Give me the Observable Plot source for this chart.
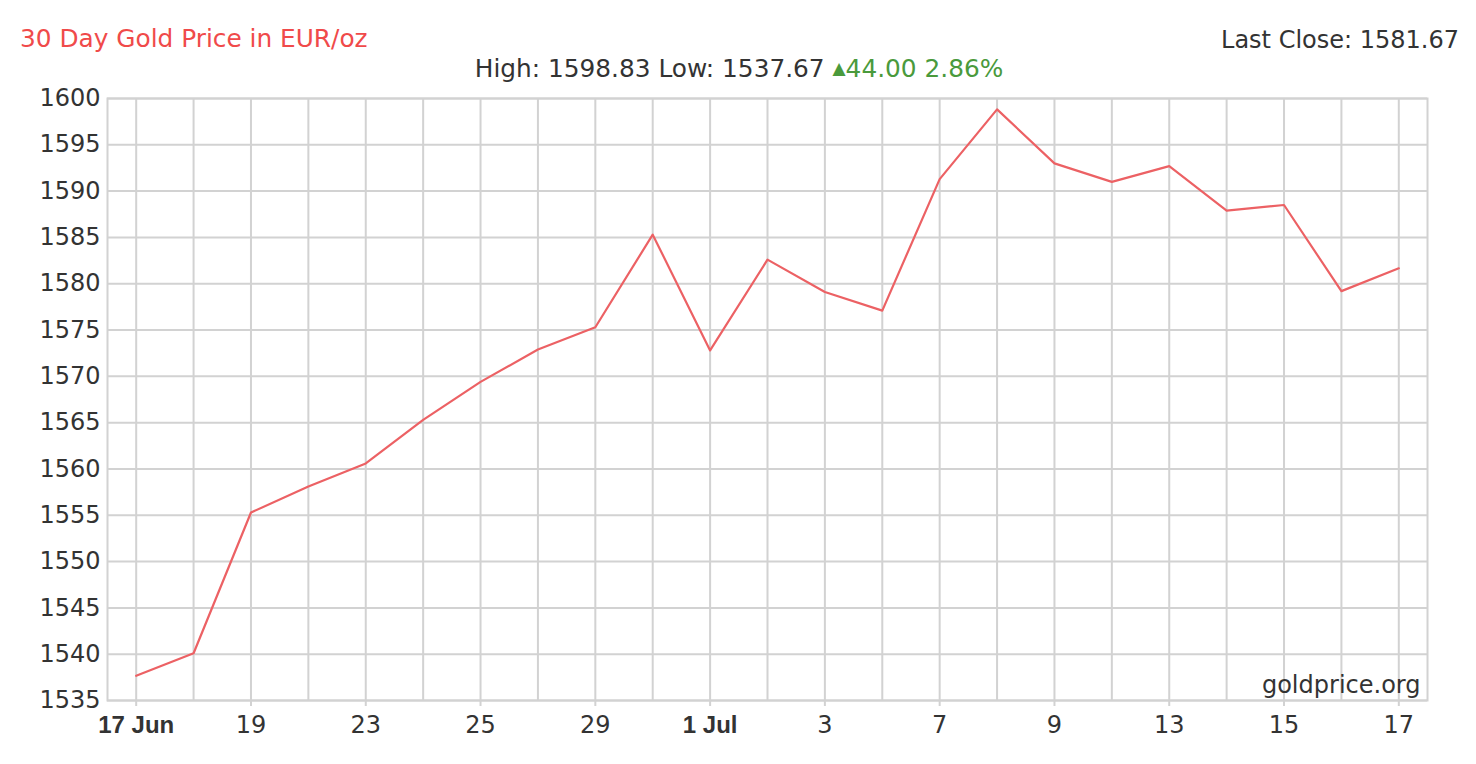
<!DOCTYPE html>
<html>
<head>
<meta charset="utf-8">
<script src="https://cdn.jsdelivr.net/npm/d3@7"></script>
<script src="https://cdn.jsdelivr.net/npm/@observablehq/plot@0.6"></script>
<style>
  html, body { margin: 0; padding: 0; background: #fff; }
  #wrap { position: relative; width: 1476px; height: 764px; font-family: "DejaVu Sans", Verdana, sans-serif; }
  .t { position: absolute; font-size: 24px; line-height: 24px; white-space: nowrap; color: #333; }
  #title { left: 20px; top: 27px; color: #f04a4a; font-size: 24.8px; }
  #last { right: 17px; top: 28px; }
  #hl { left: 0; width: 1478px; text-align: center; top: 57px; font-size: 24.8px; }
  #hl .g { color: #4a9a3c; }
  #chart { position: absolute; left: 0; top: 0; }
</style>
</head>
<body>
<div id="wrap">
  <div id="chart"></div>
  <div class="t" id="title"></div>
  <div class="t" id="last"></div>
  <div class="t" id="hl"></div>
</div>
<script>
// ---- data ----
const dates = ["17 Jun","18","19","22","23","24","25","26","29","30","1 Jul","2","3","6","7","8","9","10","13","14","15","16","17"];
const prices = [1537.67,1540.1,1555.3,1558.1,1560.6,1565.3,1569.4,1572.9,1575.3,1585.3,1572.8,1582.6,1579.1,1577.1,1591.3,1598.83,1593.0,1591.0,1592.7,1587.9,1588.5,1579.2,1581.67];
const labelIdx = [0,2,4,6,8,10,12,14,16,18,20,22];
const boldLabelIdx = [0,10];
const yTicks = [1535,1540,1545,1550,1555,1560,1565,1570,1575,1580,1585,1590,1595,1600];
const titleText = "30 Day Gold Price in EUR/oz";
const high = 1598.83, low = 1537.67, change = 44.00, changePct = 2.86, lastClose = 1581.67;
const sourceText = "goldprice.org";

const data = prices.map((p, i) => ({i, date: dates[i], price: p}));

document.getElementById("title").textContent = titleText;
document.getElementById("last").textContent = `Last Close: ${lastClose.toFixed(2)}`;
document.getElementById("hl").innerHTML =
  `High: ${high.toFixed(2)} Low: ${low.toFixed(2)} <span class="g"><span style="font-size:17px;position:relative;top:-3px">&#9650;</span>${change.toFixed(2)} ${changePct.toFixed(2)}%</span>`;

const grid = "#d2d2d2";
const chart = Plot.plot({
  width: 1476,
  height: 764,
  marginTop: 98,
  marginLeft: 107,
  marginRight: 49,
  marginBottom: 64,
  style: {fontFamily: "'DejaVu Sans', Verdana, sans-serif", fontSize: "24px", color: "#333", background: "#fff"},
  x: {domain: [-0.5, dates.length - 0.5], axis: null},
  y: {domain: [1535, 1600], axis: null},
  marks: [
    Plot.gridX(d3.range(dates.length), {stroke: grid, strokeOpacity: 1, strokeWidth: 2}),
    Plot.gridY(yTicks, {stroke: grid, strokeOpacity: 1, strokeWidth: 2}),
    Plot.frame({stroke: grid, strokeWidth: 2}),
    Plot.axisY(yTicks, {label: null, tickSize: 0, tickPadding: 7, fill: "#333", fontSize: 24, tickFormat: d => String(d)}),
    Plot.axisX(labelIdx.filter(i => !boldLabelIdx.includes(i)), {label: null, tickSize: 6, tickPadding: 9, stroke: grid, strokeWidth: 2, fill: "#333", fontSize: 24, tickFormat: i => dates[i]}),
    Plot.axisX(boldLabelIdx, {label: null, tickSize: 6, tickPadding: 9, stroke: grid, strokeWidth: 2, fill: "#333", fontSize: 24, fontWeight: "bold", fontFamily: "'Liberation Sans', Arial, sans-serif", tickFormat: i => dates[i]}),
    Plot.line(data, {x: "i", y: "price", stroke: "#ec6164", strokeWidth: 2.2}),
    Plot.text([sourceText], {frameAnchor: "bottom-right", dx: -7, dy: -8, fill: "#333", fontSize: 24})
  ]
});
document.getElementById("chart").appendChild(chart);
</script>
</body>
</html>
